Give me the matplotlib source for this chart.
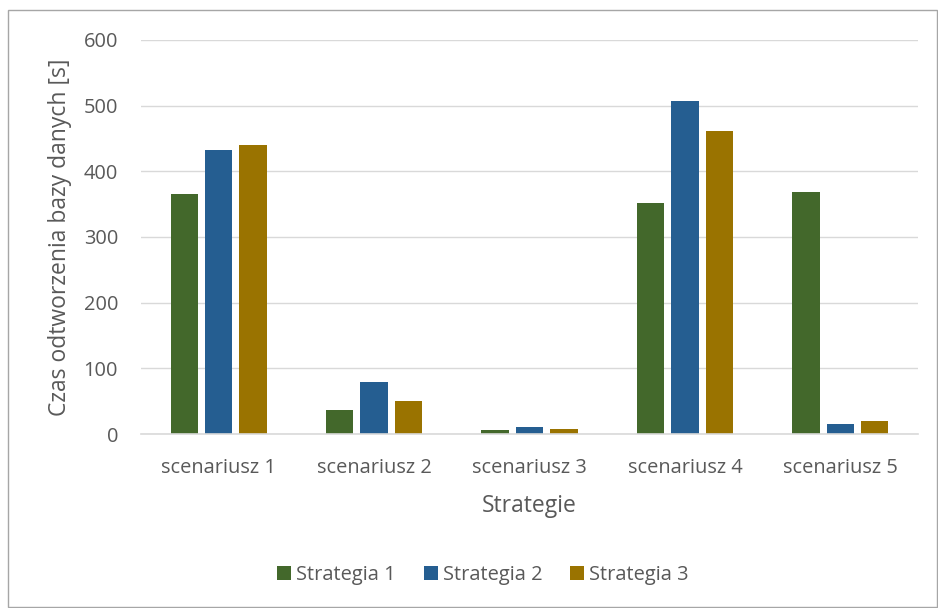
import matplotlib
matplotlib.use("Agg")
import matplotlib.pyplot as plt
import numpy as np
from matplotlib.patches import Rectangle

categories = ["scenariusz 1", "scenariusz 2", "scenariusz 3", "scenariusz 4", "scenariusz 5"]
series_names = ["Strategia 1", "Strategia 2", "Strategia 3"]
strategia1 = [365, 36, 5.5, 352, 368]
strategia2 = [432, 78.5, 10.5, 507, 15.5]
strategia3 = [440, 51, 7.5, 461, 20.5]
colors = ["#43682B", "#255E91", "#9A7300"]
yticks = [0, 100, 200, 300, 400, 500, 600]

plt.rcParams['font.family'] = ['Open Sans', 'DejaVu Sans']
text_color = "#595959"
W, H = 938, 608

fig = plt.figure(figsize=(W/100, H/100), dpi=100)
ax = fig.add_axes([141/W, 1-434/H, 777/W, 394/H])

x = np.arange(len(categories))
w = 0.176
gap = 0.045
offsets = [-(w+gap), 0, (w+gap)]
for vals, off, c, name in zip([strategia1, strategia2, strategia3], offsets, colors, series_names):
    ax.bar(x + off, vals, width=w, color=c, label=name, zorder=3)

ax.set_xlim(-0.5, len(categories)-0.5)
ax.set_ylim(0, 600)
ax.set_yticks(yticks)
ax.set_xticks(x)
ax.set_xticklabels(categories)
ax.yaxis.grid(True, color="#D9D9D9", linewidth=1, zorder=0)
for s in ["top", "right", "left"]:
    ax.spines[s].set_visible(False)
ax.spines["bottom"].set_color("#D9D9D9")
ax.spines["bottom"].set_linewidth(1.2)
ax.spines["bottom"].set_zorder(4)
ax.tick_params(axis="both", length=0, labelsize=14.4, colors=text_color)
ax.tick_params(axis="y", pad=16.5)
ax.tick_params(axis="x", pad=17)

fig.text(60/W, 1-237/H, "Czas odtworzenia bazy danych [s]", rotation=90, ha="center", va="center",
         fontsize=16.5, color=text_color)
fig.text(529.5/W, 1-512/H, "Strategie", ha="center", va="baseline", fontsize=16.5, color=text_color)

leg = fig.legend(loc="center", bbox_to_anchor=(483/W, 1-575/H), ncol=3, frameon=False,
                 fontsize=14.4, handlelength=0.7, handleheight=0.7, handletextpad=0.25,
                 columnspacing=1.4, labelcolor=text_color, borderpad=0)

fig.patches.append(Rectangle((8/W, 1/H), 929/W, 597/H, transform=fig.transFigure,
                             fill=False, edgecolor="#A6A6A6", linewidth=1))

fig.savefig("out.png", dpi=100)
